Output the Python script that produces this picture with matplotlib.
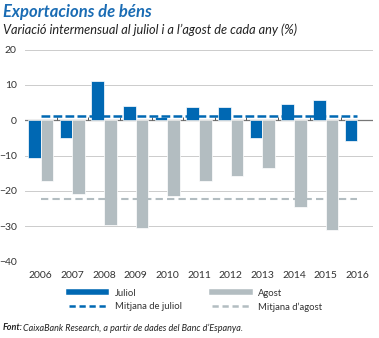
import numpy as np
import matplotlib.pyplot as plt
from matplotlib.lines import Line2D

plt.rcParams['font.family'] = ['Lato', 'DejaVu Sans']

years = ['2006', '2007', '2008', '2009', '2010', '2011', '2012', '2013', '2014', '2015', '2016']
juliol = [-10.6, -5.0, 11.0, 4.0, 1.0, 3.6, 3.7, -5.0, 4.7, 5.8, -6.0]
agost = [-17.3, -21.0, -29.6, -30.6, -21.4, -17.2, -15.7, -13.5, -24.6, -31.2, np.nan]
mitjana_juliol = 1.2
mitjana_agost = -22.2

blue = '#0068b3'
grey = '#b3bdc1'
txt = '#333333'

fig = plt.figure(figsize=(3.79, 3.38), dpi=100)
ax = fig.add_axes([25/379, 1 - 261.5/338, 348/379, 212/338])

x = np.arange(len(years))
w = 0.4
ax.bar(x - w/2, juliol, w, color=blue, edgecolor='white', linewidth=0.5, zorder=3)
ax.bar(x + w/2, agost, w, color=grey, edgecolor='white', linewidth=0.5, zorder=3)

# averages
ax.hlines(mitjana_juliol, x[0], x[-1], colors=blue, linestyles=(0, (3.5, 1.3)), linewidth=1.8, zorder=4)
ax.hlines(mitjana_agost, x[0], x[-1], colors=grey, linestyles=(0, (3.5, 2)), linewidth=1.5, zorder=4)

# zero line with little ticks between years
ax.axhline(0, color='#777777', linewidth=0.9, zorder=2)
ax.vlines(x[:-1] + 0.5, 0, 0.8, colors='#555555', linewidth=0.7, zorder=2)

ax.set_xlim(-0.5, len(years) - 0.5)
ax.set_ylim(-40, 20)
ax.set_yticks([-40, -30, -20, -10, 0, 10, 20])
ax.set_xticks(x)
ax.set_xticklabels(years)
ax.grid(axis='y', color='#cccccc', linewidth=0.7, zorder=0)
for s in ax.spines.values():
    s.set_visible(False)
ax.tick_params(length=0, labelsize=7.5, colors=txt)
ax.tick_params(axis='x', pad=7)
ax.tick_params(axis='y', pad=6)

fig.text(0.008, 0.965, 'Exportacions de béns', color='#1a6cb4', fontsize=12,
         fontweight='bold', style='italic', va='center')
fig.text(0.008, 0.912, "Variació intermensual al juliol i a l’agost de cada any (%)",
         color='#222222', fontsize=9.2, style='italic', va='center')

handles = [Line2D([], [], color=blue, linewidth=4),
           Line2D([], [], color=blue, linewidth=1.8, linestyle=(0, (2.5, 1.5))),
           Line2D([], [], color=grey, linewidth=4),
           Line2D([], [], color=grey, linewidth=1.8, linestyle=(0, (2.5, 1.5)))]
labels = ['Juliol', 'Mitjana de juliol', 'Agost', 'Mitjana d’agost']
fig.legend(handles, labels, ncol=2, loc='upper left', bbox_to_anchor=(60/379, 1 - 280/338),
           frameon=False, fontsize=6.8, handlelength=4, handletextpad=0.9,
           columnspacing=3.2, labelspacing=0.5, labelcolor=txt)

fig.text(0.008, 1 - 328/338, 'Font:', fontsize=6.5, fontweight='bold', style='italic',
         color='#222222', va='center')
fig.text(0.062, 1 - 328/338, 'CaixaBank Research, a partir de dades del Banc d’Espanya.',
         fontsize=6.5, style='italic', color='#222222', va='center')

fig.savefig('out.png', dpi=100)
